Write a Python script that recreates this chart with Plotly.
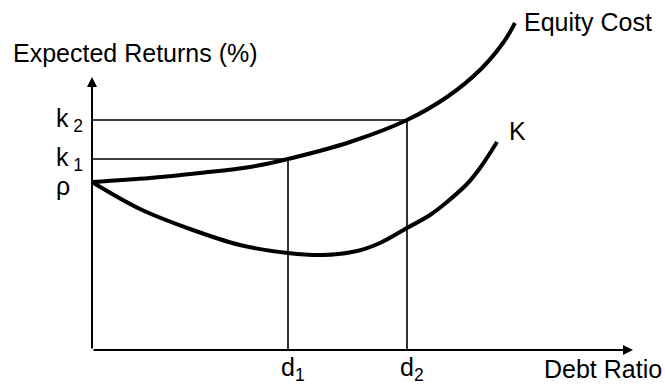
import plotly.graph_objects as go

# Curves (x: debt ratio units, y: return units)
equity_x = [0, 0.58, 1.08, 1.58, 1.96, 2.58, 3.15, 3.55, 3.88, 4.11, 4.23]
equity_y = [1.68, 1.72, 1.77, 1.83, 1.91, 2.08, 2.30, 2.53, 2.80, 3.07, 3.27]

k_x = [0, 0.48, 0.98, 1.48, 1.96, 2.31, 2.65, 2.88, 3.15, 3.38, 3.55, 3.75, 3.88, 4.05]
k_y = [1.68, 1.41, 1.21, 1.05, 0.97, 0.95, 0.99, 1.07, 1.22, 1.35, 1.48, 1.66, 1.82, 2.08]

# Marked levels
d_vals = [1.96, 3.15]
d_labels = ["d<sub>1</sub>", "d<sub>2</sub>"]
k_vals = [1.91, 2.30]
k_labels = ["k<sub> 1</sub>", "k<sub> 2</sub>"]
rho_val = 1.68
x_axis_end = 5.41
y_axis_end = 2.73

FONT = "Liberation Sans, Arial, sans-serif"
FS = 25
fig = go.Figure()

# guide lines
for d, k in zip(d_vals, k_vals):
    fig.add_trace(go.Scatter(x=[0, d, d], y=[k, k, 0], mode="lines",
                             line=dict(color="black", width=1.6), hoverinfo="skip"))

fig.add_trace(go.Scatter(x=equity_x, y=equity_y, mode="lines", line_shape="spline",
                         line=dict(color="black", width=4), hoverinfo="skip"))
fig.add_trace(go.Scatter(x=k_x, y=k_y, mode="lines", line_shape="spline",
                         line=dict(color="black", width=4), hoverinfo="skip"))

# axes with arrows
fig.add_annotation(x=x_axis_end, y=0, ax=0, ay=0, xref="x", yref="y", axref="x", ayref="y",
                   showarrow=True, arrowhead=2, arrowsize=1, arrowwidth=2, arrowcolor="black", text="")
fig.add_annotation(x=0, y=y_axis_end, ax=0, ay=0, xref="x", yref="y", axref="x", ayref="y",
                   showarrow=True, arrowhead=2, arrowsize=1, arrowwidth=2, arrowcolor="black", text="")

# tick labels
for k, lab in zip(k_vals, k_labels):
    fig.add_annotation(x=-0.38, y=k, text=lab, showarrow=False, xanchor="left",
                       font=dict(family=FONT, size=FS, color="black"))
fig.add_annotation(x=-0.38, y=rho_val - 0.04, text="ρ", showarrow=False, xanchor="left",
                   font=dict(family=FONT, size=FS, color="black"))
for d, lab in zip(d_vals, d_labels):
    fig.add_annotation(x=d + 0.05, y=-0.19, text=lab, showarrow=False, xanchor="center",
                       font=dict(family=FONT, size=FS, color="black"))

fig.add_annotation(x=5.72, y=-0.19, text="Debt Ratio", showarrow=False, xanchor="right",
                   font=dict(family=FONT, size=FS, color="black"))
fig.add_annotation(x=-0.81, y=2.97, text="Expected Returns (%)", showarrow=False, xanchor="left",
                   font=dict(family=FONT, size=FS, color="black"))
fig.add_annotation(x=4.30, y=3.28, text="Equity Cost", showarrow=False, xanchor="left",
                   font=dict(family=FONT, size=FS, color="black"))
fig.add_annotation(x=4.15, y=2.19, text="K", showarrow=False, xanchor="left",
                   font=dict(family=FONT, size=FS, color="black"))

fig.update_layout(
    width=665, height=385, margin=dict(l=0, r=0, t=0, b=0),
    paper_bgcolor="white", plot_bgcolor="white", showlegend=False,
    xaxis=dict(range=[-0.92, 5.73], visible=False, fixedrange=True),
    yaxis=dict(range=[-0.35, 3.5], visible=False, fixedrange=True),
)
fig.write_html("out.html", config={"displayModeBar": False},
               post_script="document.body.style.margin='0px';document.body.style.overflow='hidden';")
